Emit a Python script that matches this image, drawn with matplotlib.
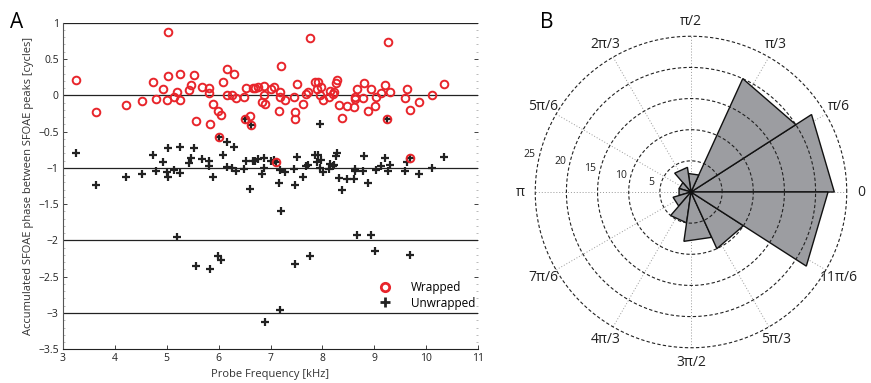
import numpy as np
import matplotlib
matplotlib.use('Agg')
import matplotlib.pyplot as plt
from matplotlib.lines import Line2D

plt.rcParams['font.family'] = ['Open Sans', 'DejaVu Sans']

# --- Dados do painel A ---
freq_khz = [3.25, 3.63, 4.21, 4.53, 4.73, 4.80, 4.93, 5.01, 5.03, 5.03,
            5.14, 5.20, 5.25, 5.26, 5.43, 5.47, 5.53, 5.56, 5.67, 5.81,
            5.81, 5.83, 5.90, 5.99, 6.01, 6.04, 6.09, 6.17, 6.17, 6.25,
            6.29, 6.34, 6.49, 6.51, 6.52, 6.60, 6.62, 6.66, 6.71, 6.75,
            6.83, 6.87, 6.88, 6.89, 7.01, 7.07, 7.10, 7.16, 7.18, 7.18,
            7.20, 7.27, 7.45, 7.48, 7.48, 7.51, 7.62, 7.68, 7.73, 7.77,
            7.86, 7.89, 7.91, 7.95, 7.98, 8.02, 8.13, 8.14, 8.20, 8.23,
            8.27, 8.29, 8.33, 8.38, 8.47, 8.61, 8.62, 8.63, 8.67, 8.79,
            8.81, 8.88, 8.93, 9.02, 9.03, 9.13, 9.20, 9.24, 9.26, 9.30,
            9.60, 9.63, 9.68, 9.69, 9.86, 10.12, 10.35]

wrapped = [0.21, -0.23, -0.13, -0.08, 0.18, -0.05, 0.08, -0.06, 0.87, 0.27,
           -0.03, 0.05, 0.29, -0.07, 0.07, 0.14, 0.28, -0.35, 0.12, 0.10,
           0.03, -0.40, -0.12, -0.21, -0.58, -0.27, 0.18, 0.36, 0.01, 0.00,
           0.29, -0.04, -0.02, -0.33, 0.10, -0.29, -0.41, 0.10, 0.10, 0.12,
           -0.09, 0.13, 0.00, -0.12, 0.09, 0.11, -0.92, -0.21, -0.03, 0.04,
           0.40, -0.06, -0.02, -0.23, -0.33, 0.15, -0.12, 0.02, 0.04, 0.79,
           0.18, 0.08, 0.18, 0.00, 0.11, -0.06, -0.02, 0.06, 0.02, 0.04,
           0.17, 0.21, -0.14, -0.31, -0.15, -0.16, -0.05, -0.02, 0.08, -0.04,
           0.17, -0.21, 0.08, -0.15, -0.03, 0.03, 0.14, -0.32, 0.73, 0.04,
           -0.04, 0.08, -0.20, -0.87, -0.09, 0.00, 0.15]

unwrapped = [-0.79, -1.23, -1.13, -1.08, -0.82, -1.05, -0.92, -1.06, -1.13, -0.73,
             -1.03, -1.95, -0.71, -1.07, -0.93, -0.86, -0.72, -2.35, -0.88, -0.90,
             -0.97, -2.40, -1.12, -2.21, -0.58, -2.27, -0.82, -0.64, -0.99, -1.00,
             -0.71, -1.04, -1.02, -0.33, -0.90, -1.29, -0.41, -0.90, -0.90, -0.88,
             -1.09, -0.87, -1.00, -3.12, -0.91, -0.89, -0.92, -1.21, -1.03, -2.96,
             -1.60, -1.06, -1.02, -1.23, -2.33, -0.85, -1.12, -0.98, -0.96, -2.21,
             -0.82, -0.92, -0.82, -1.00, -0.89, -1.06, -1.02, -0.94, -0.98, -0.96,
             -0.83, -0.79, -1.14, -1.31, -1.15, -1.16, -1.05, -1.02, -1.92, -1.04,
             -0.83, -1.21, -1.92, -2.15, -1.03, -0.97, -0.86, -0.32, -1.04, -0.96,
             -1.04, -0.92, -2.20, -0.87, -1.09, -1.00, -0.85]

# ponto extra (sem par) visto no grafico
extra_freq = [7.95]
extra_unwrapped = [-0.39]

# --- Dados do painel B (rose, 11 setores) ---
n_setores = 11
contagens = [23, 20, 3, 4, 2, 2, 3, 5, 8, 10, 22]
rotulos_theta = ['0', 'π/6', 'π/3', 'π/2', '2π/3', '5π/6', 'π',
                 '7π/6', '4π/3', '3π/2', '5π/3', '11π/6']
raios = [5, 10, 15, 20, 25]

W, H = 871, 383
fig = plt.figure(figsize=(W / 100, H / 100), dpi=100)

# ---------------- Painel A ----------------
ax = fig.add_axes([63 / W, 1 - 349.3 / H, 415 / W, 326.6 / H])
for yy in [1, 0, -1, -2, -3]:
    ax.axhline(yy, color='#222222', lw=0.9, zorder=1)

ax.plot(freq_khz, unwrapped, '+', color='#222222', ms=6, mew=1.6,
        ls='none', zorder=2)
ax.plot(extra_freq, extra_unwrapped, '+', color='#222222', ms=6, mew=1.6,
        ls='none', zorder=2)
ax.plot(freq_khz, wrapped, 'o', mfc='none', mec='#e8252b', ms=5.5, mew=1.4,
        ls='none', zorder=3)

ax.set_xlim(3, 11)
ax.set_ylim(-3.5, 1)
ax.set_xticks(range(3, 12))
ax.set_yticks(np.arange(-3.5, 1.01, 0.5))
ax.set_yticklabels(['\u22123.5', '\u22123', '\u22122.5', '\u22122', '\u22121.5',
                    '\u22121', '\u22120.5', '0', '0.5', '1'])
ax.tick_params(direction='in', length=3, width=0.6, labelsize=7.5,
               colors='#222222', right=True, top=False, pad=3)
ax.tick_params(axis='y', which='both', right=True, labelright=False)
ax.minorticks_on()
ax.tick_params(which='minor', direction='in', length=1.5, width=0.4, color='#888888')
ax.xaxis.set_minor_locator(plt.NullLocator())
for lado in ['right', 'top']:
    ax.spines[lado].set_visible(False)
ax.spines['left'].set_color('#555555')
ax.spines['bottom'].set_color('#222222')
ax.set_xlabel('Probe Frequency [kHz]', fontsize=8, color='#333333', labelpad=3)
ax.set_ylabel('Accumulated SFOAE phase between SFOAE peaks [cycles]',
              fontsize=8, color='#333333', labelpad=3)

alcas = [Line2D([], [], marker='o', mfc='none', mec='#e8252b', ms=6, mew=2, ls='none'),
         Line2D([], [], marker='+', color='#222222', ms=7, mew=2, ls='none')]
ax.legend(alcas, ['Wrapped', 'Unwrapped'], loc='lower right', frameon=False,
          fontsize=8.5, bbox_to_anchor=(1.01, 0.1), handletextpad=1.2,
          labelspacing=0.2, borderaxespad=0.2)

fig.text(10 / W, 1 - 22 / H, 'A', fontsize=15, va='center', ha='left')
fig.text(540 / W, 1 - 22 / H, 'B', fontsize=15, va='center', ha='left')

# ---------------- Painel B ----------------
cx, cy, rpx = 691, 192, 157
axp = fig.add_axes([(cx - rpx) / W, (H - cy - rpx) / H, 2 * rpx / W, 2 * rpx / H],
                   projection='polar')
axp.set_ylim(0, 25.2)
axp.spines['polar'].set_visible(False)
axp.grid(False)
axp.set_yticks([])
axp.set_xticks([])
axp.patch.set_alpha(0)

largura = 2 * np.pi / n_setores
for k, c in enumerate(contagens):
    t0, t1 = k * largura, (k + 1) * largura
    axp.fill([0, t0, t1, 0], [0, c, c, 0], facecolor='#9c9da1',
             edgecolor='#111111', lw=1.0, zorder=2)

tt = np.linspace(0, 2 * np.pi, 400)
for r in raios:
    axp.plot(tt, np.full_like(tt, r), ls=(0, (3, 2)), color='#222222', lw=0.8,
             zorder=3, clip_on=False)
for k in range(12):
    ang = np.deg2rad(30 * k)
    axp.plot([ang, ang], [0, 25], ls=(0, (1, 2)), color='#999999', lw=0.7, zorder=1)
    axp.text(ang, 27.4, rotulos_theta[k], fontsize=10, ha='center', va='center',
             color='#222222')
for r in raios:
    axp.text(np.deg2rad(167), r + 1.6, str(r), fontsize=7.5, ha='center', va='center',
             color='#222222')

fig.savefig('out.png', dpi=100)
